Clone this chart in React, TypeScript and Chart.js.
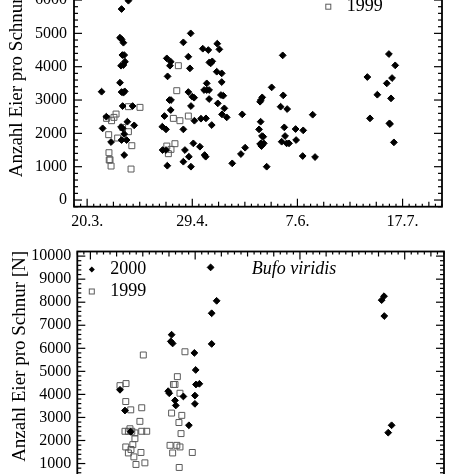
import React, { useEffect, useRef } from 'react';
import { Chart, registerables } from 'chart.js';

Chart.register(...registerables);

const FONT = '"Liberation Serif", "Times New Roman", serif';

// x axis: days counted from 20 March
const xTickValues = [0, 40, 80, 120];
const xTickLabels = ['20.3.', '29.4.', '7.6.', '17.7.'];
const yAxisTitle = 'Anzahl Eier pro Schnur [N]';
const seriesLabels = ['2000', '1999'];
const bottomSpecies = 'Bufo viridis';

// ---- top panel ----
const topDays2000 = [
  5.5, 5.9, 7.3, 9.1, 13.1, 15.7, 12.5, 13.1, 13.8, 13.4, 14.1, 14.4, 12.9, 13.8, 12.5, 13.1, 13.8, 14.3, 13.5, 17.3, 15.3, 17.9, 12.9, 13.5, 14.1, 13.1, 15.0, 14.1,
  28.6, 30.0, 29.4, 30.3, 31.8, 31.5, 30.6, 31.3, 31.9, 31.8, 28.7, 30.0, 30.5,
  36.6, 39.4, 38.5, 39.1, 38.5, 40.0, 40.7, 39.5, 36.6, 40.8, 37.2, 40.4, 38.7, 36.6, 39.5,
  42.9, 43.3, 44.0, 46.1, 47.0, 46.5, 47.6, 45.5, 46.4, 44.5, 45.5, 46.4, 45.2, 47.4, 44.7, 45.1,
  49.5, 50.3, 49.3, 51.2, 51.2, 50.9, 51.8, 49.7, 52.2, 51.3, 53.1,
  59.0, 60.1, 58.5, 55.2,
  68.3, 65.4, 66.0, 65.8, 66.1, 66.6, 66.5, 67.0, 65.8, 66.3, 66.6, 67.2, 66.2, 70.2, 74.4, 74.6, 73.6, 76.1, 75.0, 75.3, 74.0, 75.9, 76.8, 79.3, 79.5, 82.2, 82.0, 85.8, 86.7,
  106.6, 107.6, 110.4, 114.0, 114.8, 116.0, 115.6, 115.0, 115.2, 117.2, 116.7,
];
const topEggs2000 = [
  3250, 2150, 2500, 1740, 5730, 5980, 4870, 4820, 4720, 4350, 4350, 4150, 4030, 4050, 3520, 3240, 3220, 3260, 2820, 2820, 2350, 2240, 2190, 2150, 1980, 1800, 1800, 1350,
  2200, 2120, 2520, 4250, 4150, 4030, 3710, 3000, 3000, 2700, 1500, 1500, 1030,
  4730, 5000, 4300, 3950, 3240, 3100, 3070, 2820, 2120, 2380, 1500, 1700, 1300, 1150, 1000,
  1600, 2440, 4540, 4500, 4100, 4130, 4160, 3300, 3300, 3300, 3500, 3030, 2450, 2250, 1350, 1300,
  4690, 4520, 3850, 3800, 3540, 3150, 3130, 2900, 2750, 2570, 2480,
  2570, 1570, 1380, 1100,
  1000, 2120, 2350, 2950, 3000, 3080, 1920, 1900, 1680, 1620, 1650, 1700, 1700, 3380, 4340, 3140, 2800, 2730, 2180, 1920, 1750, 1700, 1700, 2130, 1800, 2090, 1320, 2560, 1290,
  3690, 2450, 3160, 3500, 4380, 3660, 3050, 2300, 2280, 4040, 1730,
];
const topDays1999 = [
  7.4, 9.3, 10.2, 11.0, 8.2, 11.6, 8.3, 8.4, 8.7, 9.1, 15.7, 20.1, 13.5, 15.7, 17.0, 16.7,
  34.7, 34.1, 32.8, 35.3, 38.5, 30.3, 30.9, 31.9, 33.4,
];
const topEggs1999 = [
  2450, 2380, 2480, 2580, 1960, 1860, 1420, 1200, 1210, 1020, 2800, 2780, 2180, 2050, 1630, 930,
  4030, 3280, 2450, 2380, 2520, 1620, 1390, 1520, 1690,
];

// ---- bottom panel (Bufo viridis) ----
const botDays2000 = [
  11.3, 13.2, 15.4,
  31.0, 30.7, 31.4, 29.7, 30.1, 32.3, 32.6, 35.5, 37.6, 39.7, 40.2, 40.3, 41.6, 39.9, 39.9,
  45.9, 48.2, 46.3, 46.3,
  111.2, 112.1, 112.2, 115.0, 113.7,
];
const botEggs2000 = [
  4200, 3300, 2380,
  6590, 6300, 6210, 4140, 4050, 3740, 3520, 3910, 2660, 5800, 5060, 4430, 4460, 3950, 3590,
  9510, 8060, 7520, 6190,
  8090, 8260, 7400, 2660, 2340,
];
const botDays1999 = [
  11.3, 13.6, 13.5, 15.4, 19.6, 18.9, 13.2, 14.5, 15.1, 15.8, 17.0, 17.0, 19.6, 21.5, 13.5, 16.2, 14.5, 15.5, 16.6, 19.3, 17.4, 20.8, 20.2,
  36.1, 33.2, 31.7, 32.3, 34.2, 31.0, 34.9, 33.8, 34.6, 30.4, 33.0, 34.2, 31.4, 38.9, 33.9,
];
const botEggs1999 = [
  4380, 4470, 3690, 3330, 3420, 2830, 2400, 2400, 2510, 2400, 2330, 2080, 2400, 2400, 1720, 1820, 1460, 1610, 1290, 1480, 960, 1030, 5710,
  5850, 4770, 4430, 4430, 4050, 3190, 3090, 2780, 2300, 1790, 1790, 1720, 1460, 1480, 830,
];

type Panel = {
  top: number;
  height: number;
  yWidth: number;
  padTop: number;
  padRight: number;
  padBottom: number;
  yMin: number;
  yMax: number;
  yPad: number;
  legendDx: number;
  species?: string;
  d2000: number[];
  e2000: number[];
  d1999: number[];
  e1999: number[];
};

const panels: Panel[] = [
  {
    top: -50, height: 290, yWidth: 74, padTop: 16.7, padRight: 32, padBottom: 3.3,
    yMin: -200, yMax: 7000, yPad: 7, legendDx: 254.3,
    d2000: topDays2000, e2000: topEggs2000, d1999: topDays1999, e1999: topEggs1999,
  },
  {
    top: 240, height: 300, yWidth: 77.3, padTop: 11.5, padRight: 30, padBottom: 18.8,
    yMin: -200, yMax: 10200, yPad: 6, legendDx: 14.5, species: bottomSpecies,
    d2000: botDays2000, e2000: botEggs2000, d1999: botDays1999, e1999: botEggs1999,
  },
];

function framePlugin(p: Panel) {
  return {
    id: 'frameTicks',
    afterDatasetsDraw(chart: any) {
      const { ctx, chartArea: a, scales } = chart;
      const xs = scales.x;
      const ys = scales.y;
      ctx.save();
      ctx.strokeStyle = '#000';
      ctx.lineWidth = 1.2;
      const seg = (x1: number, y1: number, x2: number, y2: number) => {
        ctx.beginPath();
        ctx.moveTo(x1, y1);
        ctx.lineTo(x2, y2);
        ctx.stroke();
      };
      for (let v = Math.ceil(ys.min / 200) * 200; v <= ys.max; v += 200) {
        const py = ys.getPixelForValue(v);
        const len = v % 1000 === 0 ? 8 : 4;
        seg(a.left, py, a.left + len, py);
        seg(a.right, py, a.right - len, py);
      }
      for (let d = Math.ceil(xs.min / 2.5) * 2.5; d <= xs.max; d += 2.5) {
        const px = xs.getPixelForValue(d);
        const len = d % 40 === 0 ? 8 : d % 10 === 0 ? 5 : 3;
        seg(px, a.bottom, px, a.bottom - len);
        seg(px, a.top, px, a.top + len);
      }
      ctx.lineWidth = 1.8;
      ctx.strokeRect(a.left, a.top, a.right - a.left, a.bottom - a.top);

      // legend
      const ds = chart.data.datasets;
      const lx = a.left + p.legendDx;
      const r0 = a.top + 18;
      const r1 = a.top + 40;
      ctx.fillStyle = '#000';
      ctx.beginPath();
      ctx.moveTo(lx, r0 - 3);
      ctx.lineTo(lx + 3, r0);
      ctx.lineTo(lx, r0 + 3);
      ctx.lineTo(lx - 3, r0);
      ctx.closePath();
      ctx.fill();
      ctx.strokeStyle = '#5a5a5a';
      ctx.lineWidth = 1;
      ctx.strokeRect(lx - 2.5, r1 - 2.5, 5, 5);
      ctx.font = `18px ${FONT}`;
      ctx.textAlign = 'left';
      ctx.textBaseline = 'middle';
      ctx.fillText(ds[0].label, lx + 18.4, r0);
      ctx.fillText(ds[1].label, lx + 18.4, r1);
      if (p.species) {
        ctx.font = `italic 18px ${FONT}`;
        ctx.fillText(p.species, a.left + 174.4, r0);
      }

      // y axis title
      ctx.font = `19px ${FONT}`;
      ctx.textAlign = 'center';
      ctx.textBaseline = 'alphabetic';
      ctx.translate(a.left - 52, (a.top + a.bottom) / 2 - 15);
      ctx.rotate(-Math.PI / 2);
      ctx.fillText(yAxisTitle, 0, 0);
      ctx.restore();
    },
  };
}

function ChartPanel({ p }: { p: Panel }) {
  const ref = useRef<HTMLCanvasElement | null>(null);
  useEffect(() => {
    if (!ref.current) return;
    const chart = new Chart(ref.current, {
      type: 'scatter',
      data: {
        datasets: [
          {
            label: seriesLabels[0],
            data: p.d2000.map((d, i) => ({ x: d, y: p.e2000[i] })),
            pointStyle: 'rectRot',
            pointRadius: 3.4,
            backgroundColor: '#000',
            borderColor: '#000',
            borderWidth: 1,
          },
          {
            label: seriesLabels[1],
            data: p.d1999.map((d, i) => ({ x: d, y: p.e1999[i] })),
            pointStyle: 'rect',
            pointRadius: 4.2,
            backgroundColor: 'rgba(0,0,0,0)',
            borderColor: '#5a5a5a',
            borderWidth: 1,
          },
        ],
      },
      options: {
        responsive: false,
        animation: false,
        devicePixelRatio: 1,
        events: [],
        layout: { padding: { left: 0, right: p.padRight, top: p.padTop, bottom: p.padBottom } },
        plugins: { legend: { display: false }, tooltip: { enabled: false } },
        scales: {
          x: {
            type: 'linear',
            min: -5,
            max: 135,
            grid: { display: false, drawTicks: false },
            border: { display: false },
            afterBuildTicks: (s: any) => {
              s.ticks = xTickValues.map((v) => ({ value: v }));
            },
            afterFit: (s: any) => {
              s.height = 30;
              s.paddingLeft = 0;
              s.paddingRight = 0;
            },
            ticks: {
              autoSkip: false,
              maxRotation: 0,
              padding: 5,
              color: '#000',
              font: { family: FONT, size: 16 },
              callback: (_v: any, i: number) => xTickLabels[i] ?? '',
            },
          },
          y: {
            type: 'linear',
            min: p.yMin,
            max: p.yMax,
            grid: { display: false, drawTicks: false },
            border: { display: false },
            afterBuildTicks: (s: any) => {
              const t: { value: number }[] = [];
              for (let v = 0; v <= s.max; v += 1000) t.push({ value: v });
              s.ticks = t;
            },
            afterFit: (s: any) => {
              s.width = p.yWidth;
              s.paddingTop = 0;
              s.paddingBottom = 0;
            },
            ticks: {
              autoSkip: false,
              padding: p.yPad,
              color: '#000',
              font: { family: FONT, size: 16 },
              callback: (v: any) => String(v),
            },
          },
        },
      } as any,
      plugins: [framePlugin(p)],
    });
    return () => chart.destroy();
  }, [p]);
  return (
    <canvas
      ref={ref}
      width={474}
      height={p.height}
      style={{ position: 'absolute', left: 0, top: p.top, width: 474, height: p.height }}
    />
  );
}

export default function App() {
  return (
    <div
      style={{
        position: 'fixed',
        left: 0,
        top: 0,
        width: 474,
        height: 474,
        overflow: 'hidden',
        background: '#fff',
      }}
    >
      {panels.map((p, i) => (
        <ChartPanel key={i} p={p} />
      ))}
    </div>
  );
}
